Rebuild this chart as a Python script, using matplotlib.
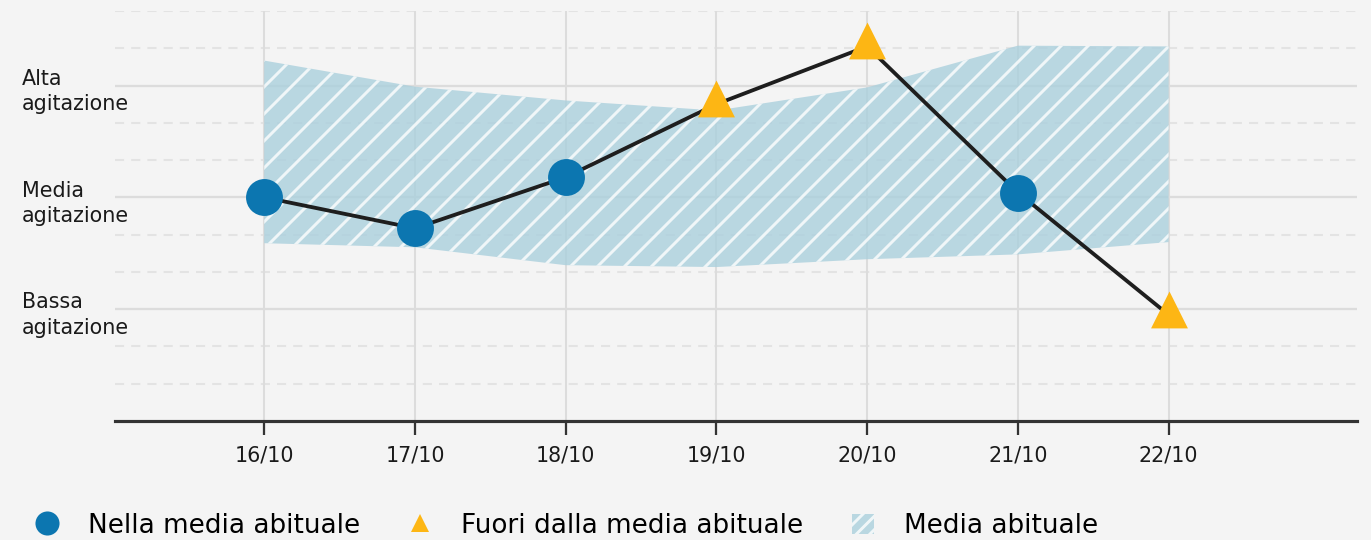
import matplotlib.pyplot as plt
import matplotlib.transforms as mtransforms
from matplotlib.lines import Line2D
from matplotlib.patches import Patch
from matplotlib.path import Path

# dati (scala: 3 = bassa, 6 = media, 9 = alta agitazione)
giorni = ['16/10', '17/10', '18/10', '19/10', '20/10', '21/10', '22/10']
agitazione = [6.0, 5.17, 6.54, 8.5, 10.05, 6.13, 2.85]
nella_media = [True, True, True, False, False, True, False]
media_max = [9.67, 8.97, 8.60, 8.33, 8.95, 10.07, 10.05]
media_min = [4.77, 4.66, 4.18, 4.13, 4.34, 4.47, 4.80]
livelli = [3, 6, 9]
livelli_nomi = ['Bassa\nagitazione', 'Media\nagitazione', 'Alta\nagitazione']

BG = '#f4f4f4'
BLU = '#0c76b0'
GIALLO = '#fdb614'
BANDA = '#abd0dd'

plt.rcParams['font.family'] = ['DejaVu Sans']
plt.rcParams['hatch.color'] = 'white'
plt.rcParams['hatch.linewidth'] = 1.3

DPI = 162
fig = plt.figure(figsize=(1371 / DPI, 540 / DPI), dpi=DPI, facecolor=BG)
ax = fig.add_axes([115 / 1371, 1 - 421 / 540, (1357 - 115) / 1371, (421 - 11) / 540])
ax.set_facecolor(BG)

x = list(range(len(giorni)))

# griglia
for y in range(1, 12):
    if y in livelli:
        ax.axhline(y, color='#dcdcdc', lw=1.0, zorder=0)
    else:
        ax.axhline(y, color='#e3e3e3', lw=0.9, ls=(0, (4.5, 3.5)), zorder=0)
for xi in x:
    ax.axvline(xi, color='#dcdcdc', lw=0.9, zorder=0)

# banda della media abituale
ax.fill_between(x, media_min, media_max, facecolor=BANDA, edgecolor='white',
                linewidth=0, hatch='//', alpha=0.8, zorder=1)

# linea e punti
ax.plot(x, agitazione, color='#1e1e1e', lw=1.7, zorder=2, solid_capstyle='round')
tri = Path([(0, 1.3), (-1, -0.7), (1, -0.7), (0, 1.3)],
           [Path.MOVETO, Path.LINETO, Path.LINETO, Path.CLOSEPOLY])
xs_in = [xi for xi, ok in zip(x, nella_media) if ok]
ys_in = [v for v, ok in zip(agitazione, nella_media) if ok]
xs_out = [xi for xi, ok in zip(x, nella_media) if not ok]
ys_out = [v for v, ok in zip(agitazione, nella_media) if not ok]
ax.plot(xs_in, ys_in, ls='none', marker='o', ms=16.4, mfc=BLU, mec='none', zorder=3)
ax.plot(xs_out, ys_out, ls='none', marker=tri, ms=21.3, mfc=GIALLO, mec='none', zorder=3)

ax.set_xlim(-0.99, 7.25)
ax.set_ylim(0, 11)
ax.set_xticks(x)
ax.set_xticklabels(giorni, fontsize=9.2, color='#1a1a1a')
ax.set_yticks([])
ax.tick_params(axis='x', length=6.2, width=1.0, color='#333333', pad=4.5)
for s in ['top', 'right', 'left']:
    ax.spines[s].set_visible(False)
ax.spines['bottom'].set_color('#333333')
ax.spines['bottom'].set_linewidth(1.4)

# etichette dei livelli
blend = mtransforms.blended_transform_factory(fig.transFigure, ax.transData)
for lv, nome in zip(livelli, livelli_nomi):
    ax.text(22 / 1371, lv - 0.16, nome, transform=blend, fontsize=9.2, color='#1a1a1a',
            ha='left', va='center', linespacing=1.35, clip_on=False)

# legenda
handles = [
    Line2D([], [], ls='none', marker='o', ms=10.7, mfc=BLU, mec='none'),
    Line2D([], [], ls='none', marker='^', ms=8.4, mfc=GIALLO, mec='none'),
    Patch(facecolor=BANDA, edgecolor='white', linewidth=0, hatch='////', alpha=0.8),
]
labels = ['Nella media abituale', 'Fuori dalla media abituale', 'Media abituale']
fig.legend(handles, labels, loc='center left', bbox_to_anchor=(36 / 1371, 1 - 526 / 540),
           ncol=3, frameon=False, fontsize=11.7, borderpad=0, borderaxespad=0,
           handlelength=0.84, handleheight=0.8, handletextpad=1.14, columnspacing=1.85)

fig.savefig('out.png', dpi=DPI, facecolor=BG)
